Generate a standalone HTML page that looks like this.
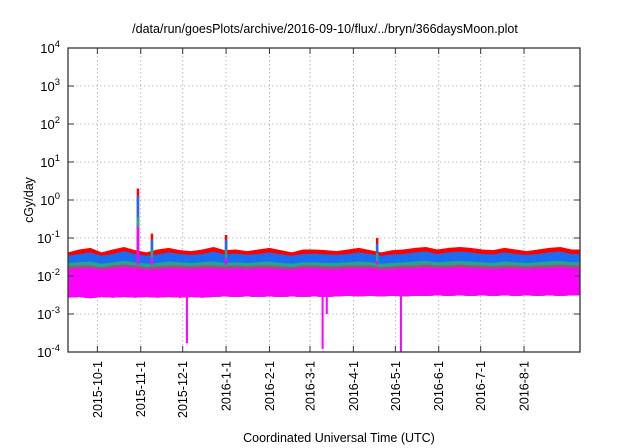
<!DOCTYPE html>
<html><head><meta charset="utf-8"><style>
html,body{margin:0;padding:0;background:#fff;}
svg{display:block;font-family:"Liberation Sans",Arial,sans-serif;}
</style></head><body>
<svg id="chart" width="640" height="448" viewBox="0 0 640 448" xmlns="http://www.w3.org/2000/svg">
<text x="325" y="33" font-size="12.5" text-anchor="middle">/data/run/goesPlots/archive/2016-09-10/flux/../bryn/366daysMoon.plot</text>
<text transform="translate(33,200) rotate(-90)" font-size="12.5" text-anchor="middle">cGy/day</text>
<text x="339" y="442" font-size="12.5" text-anchor="middle">Coordinated Universal Time (UTC)</text>
<g id="grid"></g>
<g id="series"></g>
<g id="axes"></g>
</svg>
<script>
// data: day offsets from 2015-09-10, sampled every 8 days
const sampleStep = 8;
const redTop   = [0.042,0.05,0.055,0.042,0.05,0.058,0.048,0.042,0.05,0.055,0.048,0.045,0.05,0.058,0.048,0.05,0.045,0.05,0.055,0.048,0.042,0.05,0.05,0.048,0.045,0.05,0.055,0.048,0.042,0.048,0.05,0.055,0.058,0.05,0.055,0.058,0.055,0.05,0.048,0.055,0.05,0.045,0.05,0.055,0.058,0.05];
const blueTop  = [0.034,0.038,0.042,0.034,0.038,0.045,0.038,0.034,0.037,0.042,0.038,0.036,0.038,0.044,0.037,0.039,0.036,0.038,0.042,0.037,0.034,0.038,0.039,0.037,0.036,0.038,0.042,0.038,0.034,0.037,0.038,0.042,0.044,0.038,0.042,0.044,0.042,0.038,0.037,0.042,0.038,0.036,0.038,0.042,0.044,0.038];
const tealTop  = [0.022,0.023,0.024,0.021,0.023,0.025,0.023,0.021,0.022,0.024,0.023,0.022,0.023,0.024,0.022,0.023,0.022,0.023,0.024,0.022,0.021,0.023,0.023,0.022,0.022,0.023,0.024,0.023,0.021,0.022,0.023,0.024,0.025,0.023,0.024,0.025,0.024,0.023,0.022,0.024,0.023,0.022,0.023,0.024,0.025,0.023];
const brownTop = [0.018,0.019,0.019,0.017,0.019,0.02,0.019,0.017,0.018,0.019,0.019,0.018,0.019,0.019,0.018,0.019,0.018,0.019,0.019,0.018,0.017,0.019,0.019,0.018,0.018,0.019,0.019,0.019,0.017,0.018,0.019,0.019,0.02,0.019,0.019,0.02,0.019,0.019,0.018,0.019,0.019,0.018,0.019,0.019,0.02,0.019];
const magTop   = [0.015,0.016,0.016,0.015,0.016,0.017,0.016,0.015,0.015,0.016,0.016,0.015,0.016,0.016,0.015,0.016,0.015,0.016,0.016,0.015,0.015,0.016,0.016,0.015,0.015,0.016,0.016,0.016,0.015,0.015,0.016,0.016,0.017,0.016,0.016,0.017,0.016,0.016,0.015,0.016,0.016,0.015,0.016,0.016,0.017,0.016];
const magBottom= [0.0027,0.0028,0.0026,0.0028,0.0027,0.0028,0.0027,0.0028,0.0027,0.0028,0.0027,0.0028,0.0027,0.0028,0.0029,0.0028,0.0029,0.0028,0.0029,0.0028,0.0029,0.0028,0.0029,0.0028,0.0029,0.003,0.0029,0.003,0.0029,0.003,0.0029,0.003,0.003,0.0031,0.003,0.0031,0.003,0.0031,0.003,0.0031,0.003,0.0031,0.003,0.0031,0.003,0.0031];
const spikeDays  = [50, 60, 113, 221];
const spikeRed   = [2.0, 0.13, 0.12, 0.1];
const spikeBlue  = [1.3, 0.09, 0.09, 0.07];
const spikeTeal  = [0.35, 0.05, 0.05, 0.04];
const spikeMag   = [0.2, 0.03, 0.03, 0.025];
const dipDays    = [85, 182, 185, 238];
const dipValues  = [0.00017, 0.00012, 0.001, 0.0001];
const yTickExp   = [4,3,2,1,0,-1,-2,-3,-4];
const xTickDays  = [21, 52, 82, 113, 144, 173, 204, 234, 265, 295, 326];
const xTickLabels= ["2015-10-1","2015-11-1","2015-12-1","2016-1-1","2016-2-1","2016-3-1","2016-4-1","2016-5-1","2016-6-1","2016-7-1","2016-8-1"];

const L=68,R=580,T=48,B=352,DAYS=366;
const NS="http://www.w3.org/2000/svg";
const xs=d=>L+d*(R-L)/DAYS;
const ys=v=>{let y=200-38*Math.log10(v);return Math.min(B,Math.max(T,y));};
function mk(tag,attrs,parent){const e=document.createElementNS(NS,tag);for(const k in attrs)e.setAttribute(k,attrs[k]);parent.appendChild(e);return e;}
const grid=document.getElementById('grid'),ser=document.getElementById('series'),ax=document.getElementById('axes');

yTickExp.forEach(p=>{
  const y=ys(Math.pow(10,p));
  if(p<4&&p>-4){const g=mk('line',{x1:L,x2:R,y1:y,y2:y,stroke:'#aaa','stroke-width':0.8,'stroke-dasharray':'1.5,2.5'},grid);
  
  }
  const t=mk('line',{x1:L,x2:L+6,y1:y,y2:y,stroke:'#333','stroke-width':1},ax);
  
  
  mk('line',{x1:R,x2:R-6,y1:y,y2:y,stroke:'#333','stroke-width':1},ax);
  const tx=mk('text',{x:L-8,y:y+5,'font-size':13,'text-anchor':'end'},ax);
  
  
  tx.innerHTML='10<tspan dy="-6" font-size="9.5">'+p+'</tspan>';
});
xTickDays.forEach((d,i)=>{
  const x=xs(d);
  const g=mk('line',{x1:x,x2:x,y1:T,y2:B,stroke:'#aaa','stroke-width':0.8,'stroke-dasharray':'1.5,2.5'},grid);
  
  
  const t=mk('line',{x1:x,x2:x,y1:B,y2:B-6,stroke:'#333'},ax);
  
  
  mk('line',{x1:x,x2:x,y1:T,y2:T+6,stroke:'#333'},ax);
  const tx=mk('text',{transform:`translate(${x+4.5},${B+9}) rotate(-90)`,'font-size':12.5,'text-anchor':'end'},ax);
  
  
  tx.textContent=xTickLabels[i];
});
const frame=mk('rect',{x:L,y:T,width:R-L,height:B-T,fill:'none',stroke:'#333','stroke-width':1.3},ax);



function area(top,bottom,color,name){
  let pts=[];
  top.forEach((v,i)=>{const d=Math.min(DAYS,i*sampleStep);pts.push([xs(d),ys(v)]);if(i==top.length-1)pts.push([R,ys(v)]);});
  let bp=[];
  bottom.forEach((v,i)=>{const d=Math.min(DAYS,i*sampleStep);bp.push([xs(d),ys(v)]);if(i==bottom.length-1)bp.push([R,ys(v)]);});
  const all=pts.concat(bp.reverse());
  const p=mk('polygon',{points:all.map(q=>q.join(',')).join(' '),fill:color},ser);
  
  
}
area(redTop,magBottom,'#ff0000','series-red');
area(blueTop,magBottom,'#1a6cf0','series-blue');
area(tealTop,magBottom,'#1fa88f','series-teal');
area(brownTop,magBottom,'#a0507a','series-brown');
area(magTop,magBottom,'#ff00ff','series-magenta');

spikeDays.forEach((d,i)=>{
  const x=xs(d),base=ys(0.02);
  [[spikeRed,'#ff0000'],[spikeBlue,'#1a6cf0'],[spikeTeal,'#1fa88f'],[spikeMag,'#ff00ff']].forEach(([arr,c])=>{
    const l=mk('line',{x1:x,x2:x,y1:base,y2:ys(arr[i]),stroke:c,'stroke-width':2.5},ser);
    
    
  });
});
dipDays.forEach((d,i)=>{
  const x=xs(d);
  const l=mk('line',{x1:x,x2:x,y1:ys(0.003),y2:ys(dipValues[i]),stroke:'#ff00ff','stroke-width':2},ser);
  
  
});
</script>
</body></html>
